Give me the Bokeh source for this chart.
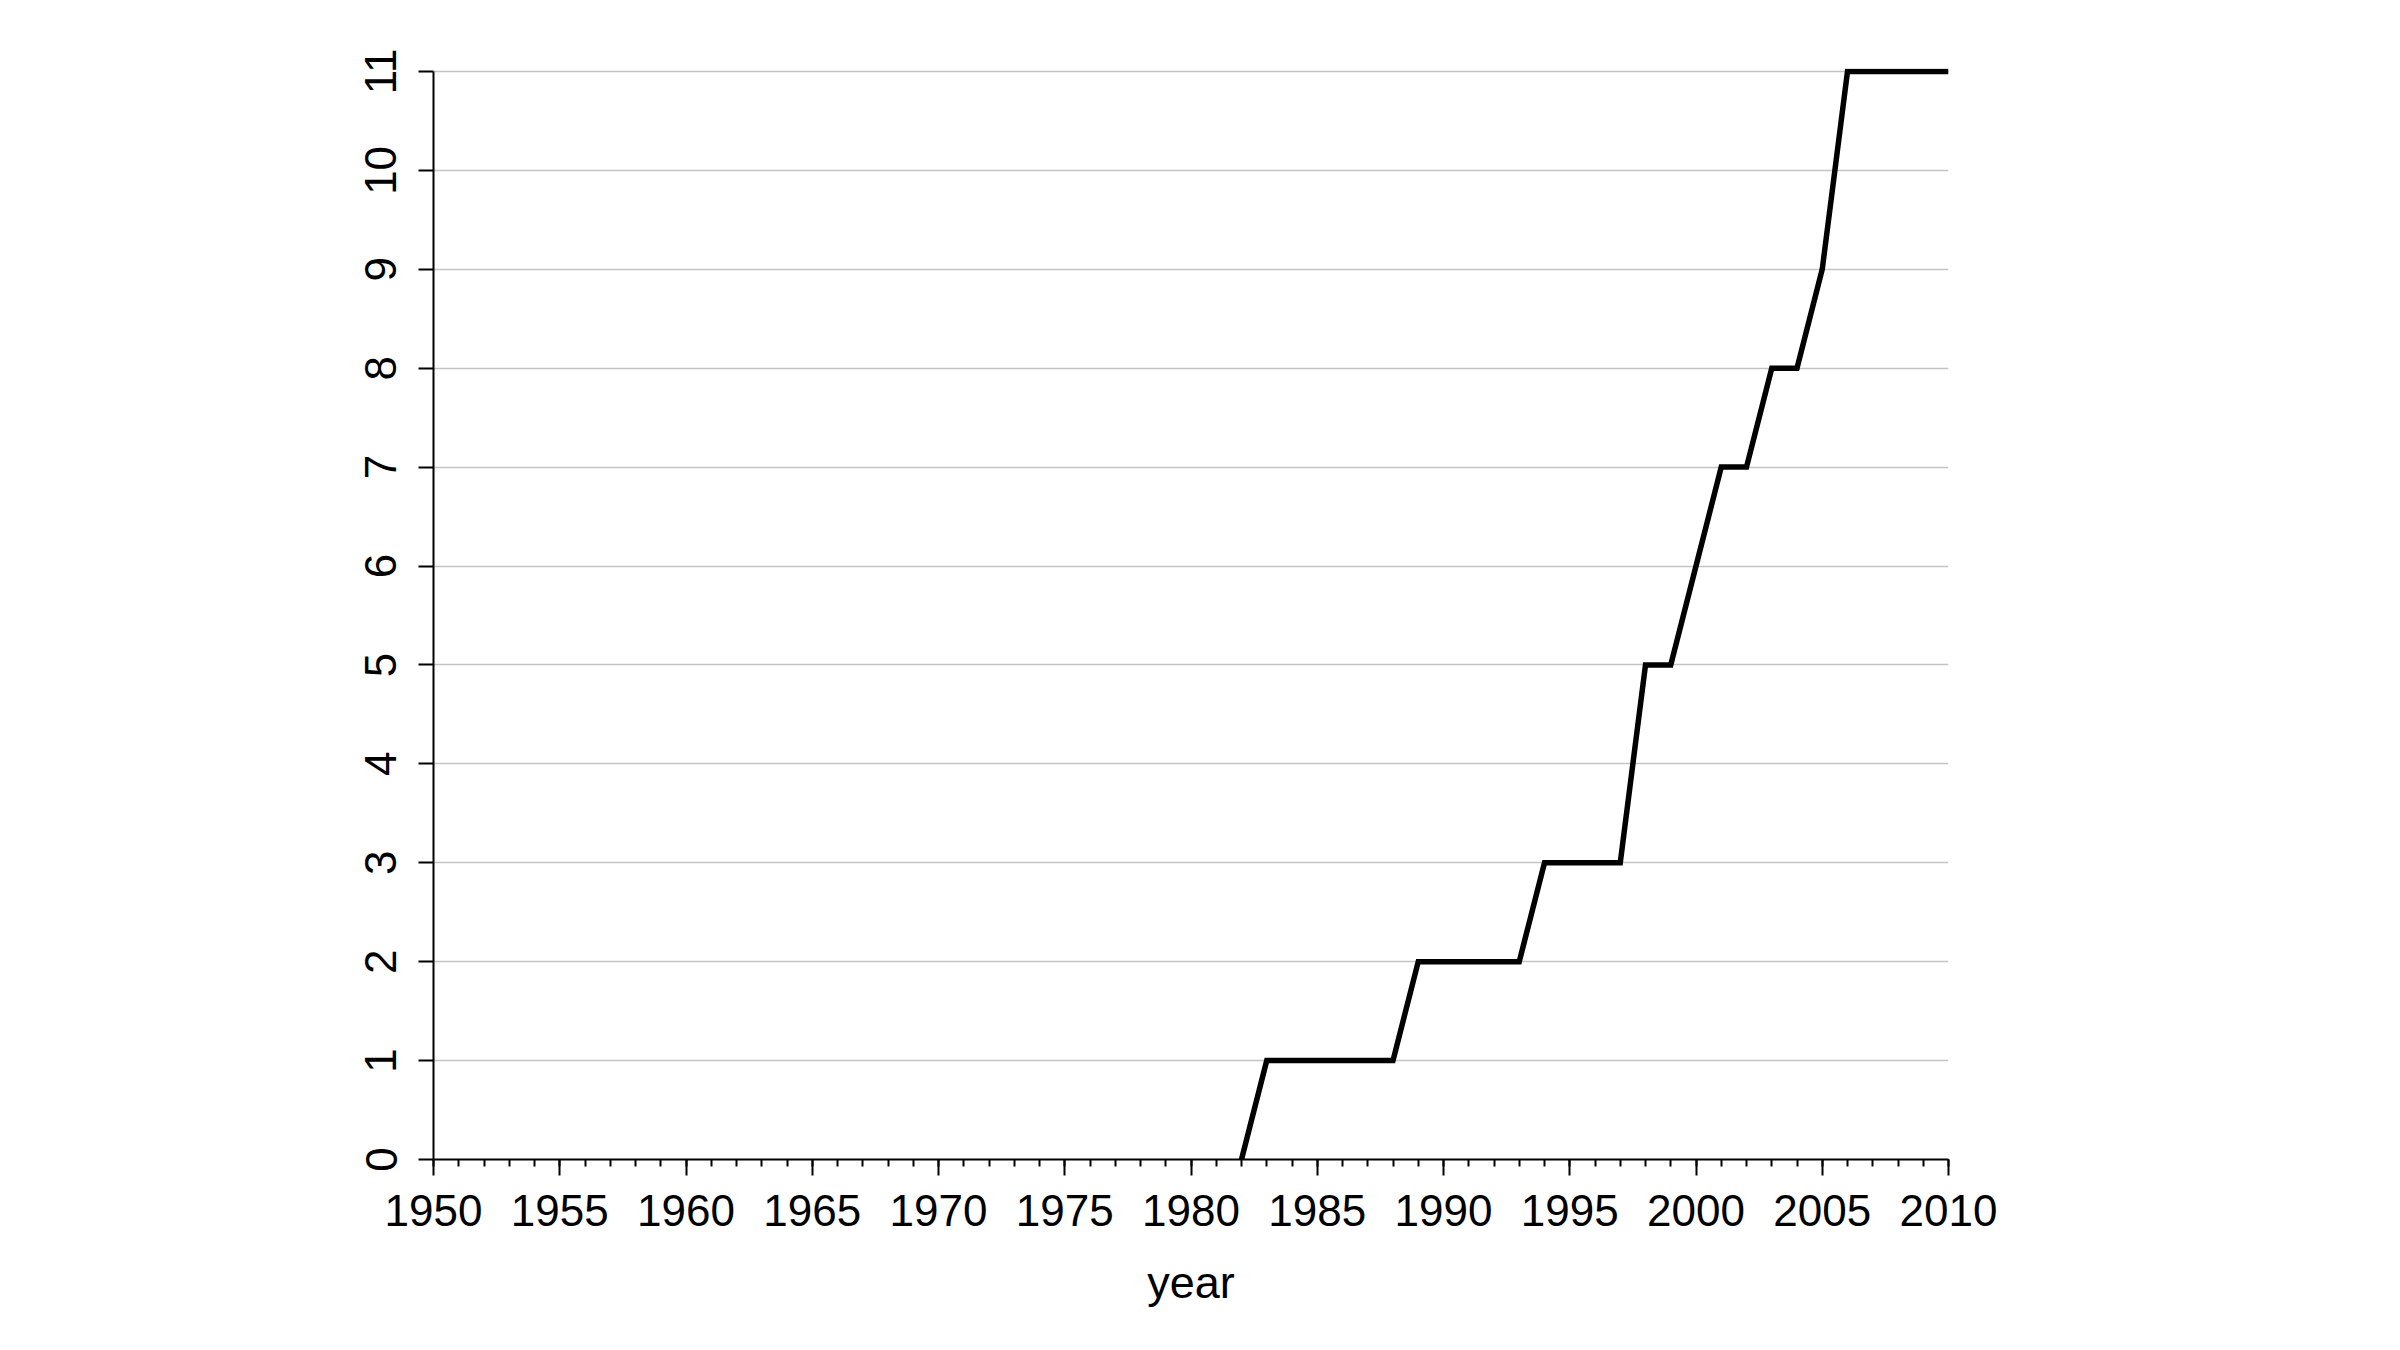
from bokeh.plotting import figure
from bokeh.models import Range1d, FixedTicker
from bokeh.embed import file_html
from bokeh.resources import INLINE

years = [1982, 1983, 1988, 1989, 1993, 1994, 1997, 1998, 1999, 2000, 2001, 2002, 2003, 2004, 2005, 2006, 2010]
counts = [0, 1, 1, 2, 2, 3, 3, 5, 5, 6, 7, 7, 8, 8, 9, 11, 11]
x_ticks = list(range(1950, 2011, 5))
x_minor = list(range(1950, 2011, 1))
y_ticks = list(range(0, 12))

FONT = "Liberation Sans"

p = figure(width=2380, height=1330, output_backend="svg", toolbar_location=None,
           x_range=Range1d(1950, 2010), y_range=Range1d(0, 11.03),
           min_border_left=433, min_border_right=432, min_border_top=68, min_border_bottom=171)
p.outline_line_color = None
p.background_fill_color = "white"
p.border_fill_color = "white"

p.line(years, counts, line_color="black", line_width=5.5, line_join="miter")

xa = p.xaxis[0]
xa.ticker = FixedTicker(ticks=x_ticks, minor_ticks=x_minor)
xa.bounds = (1950, 2010)
xa.axis_label = "year"
xa.axis_label_text_font = FONT
xa.axis_label_text_font_style = "normal"
xa.axis_label_text_font_size = "45px"
xa.axis_label_text_color = "black"
xa.axis_label_standoff = 28
xa.major_label_text_font = FONT
xa.major_label_text_font_size = "44px"
xa.major_label_text_color = "black"
xa.major_label_standoff = 19
xa.axis_line_color = "black"
xa.axis_line_width = 2
xa.major_tick_line_color = "black"
xa.major_tick_line_width = 2
xa.major_tick_out = 16
xa.major_tick_in = 0
xa.minor_tick_line_color = "black"
xa.minor_tick_line_width = 2
xa.minor_tick_out = 7
xa.minor_tick_in = 0

ya = p.yaxis[0]
ya.ticker = FixedTicker(ticks=y_ticks, minor_ticks=[])
ya.bounds = (0, 11)
ya.major_label_orientation = "vertical"
ya.major_label_text_font = FONT
ya.major_label_text_font_size = "44px"
ya.major_label_text_color = "black"
ya.major_label_standoff = 22
ya.axis_line_color = "black"
ya.axis_line_width = 2
ya.major_tick_line_color = "black"
ya.major_tick_line_width = 2
ya.major_tick_out = 15
ya.major_tick_in = 0
ya.minor_tick_line_color = None

p.xgrid.grid_line_color = None
p.ygrid.ticker = FixedTicker(ticks=y_ticks)
p.ygrid.grid_line_color = "#c4c4c4"
p.ygrid.grid_line_width = 1.5

open("out.html", "w").write(file_html(p, INLINE))
